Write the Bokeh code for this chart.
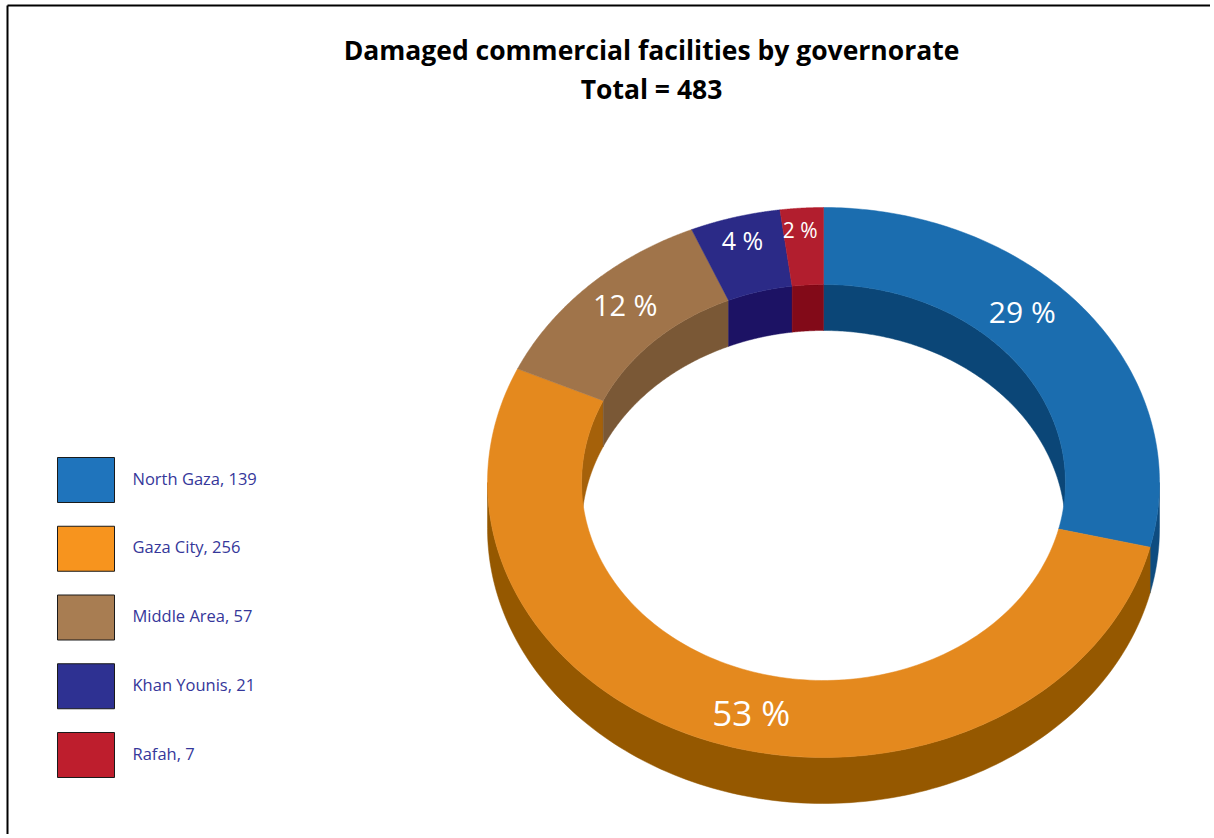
import numpy as np
from bokeh.plotting import figure
from bokeh.models import Range1d, ColumnDataSource
from bokeh.core.properties import value
from bokeh.embed import file_html
from bokeh.resources import INLINE

# ---------------- data ----------------
governorates = ["North Gaza", "Gaza City", "Middle Area", "Khan Younis", "Rafah"]
# slice sizes as drawn in the chart (they add up to the stated total of 483)
slice_values = [139, 256, 57, 21, 10]
# counts as printed in the legend
legend_counts = [139, 256, 57, 21, 7]
pct_labels = ["29 %", "53 %", "12 %", "4 %", "2 %"]
title_lines = ["Damaged commercial facilities by governorate", "Total = 483"]

# ---------------- styles ----------------
legend_colors = ["#1F74BC", "#F7941E", "#A87D52", "#2E3192", "#BE1E2D"]
top_colors = ["#1B6DAF", "#E4891E", "#A0744A", "#2B2A87", "#B21E2E"]
outer_wall_colors = ["#0E4C80", "#955800", "#6E4F2F", "#1C1264", "#820A18"]
inner_wall_colors = ["#0B4677", "#A5610A", "#7A5836", "#1C1264", "#820A18"]
label_sizes = ["30px", "35px", "29px", "25px", "21px"]
label_angle_shift = [-8.2, -4.55, 1.95, 0.0, -0.6]  # degrees, label placement tweak
label_radius = [0.858, 0.862, 0.875, 0.916, 0.92]   # fraction of outer radius
FONT = "Open Sans"

W, H = 1210, 834
p = figure(width=W, height=H, x_range=Range1d(0, W), y_range=Range1d(H, 0),
           output_backend="svg", toolbar_location=None, min_border=0,
           x_axis_location=None, y_axis_location=None,
           outline_line_color=None, border_fill_color="white",
           background_fill_color="white")
p.grid.visible = False

# geometry of the 3D donut (screen-like units)
cx, cy, rx, ry = 823.0, 482.0, 336.0, 275.0
inner = 0.72
depth = 46.0

total = sum(slice_values)
cum = np.concatenate([[0.0], np.cumsum(slice_values)]) / total * 2 * np.pi


def arc(r, a, b, dy=0.0, n=140):
    t = np.linspace(a, b, n)
    return cx + r * rx * np.sin(t), cy - r * ry * np.cos(t) + dy


def clip(a, b, lo, hi):
    return max(a, lo), min(b, hi)


# inner (back) walls visible through the hole
ixs, iys, icol = [], [], []
for i in range(len(slice_values)):
    a, b = cum[i], cum[i + 1]
    for lo, hi in [(0.0, np.pi / 2), (1.5 * np.pi, 2 * np.pi)]:
        s, e = clip(a, b, lo, hi)
        if e > s:
            x1, y1 = arc(inner, s, e)
            x2, y2 = arc(inner, e, s, depth)
            ixs.append(np.concatenate([x1, x2]))
            iys.append(np.concatenate([y1, y2]))
            icol.append(inner_wall_colors[i])
p.patches(xs=ixs, ys=iys, fill_color=icol, line_color=icol, line_width=0.5)

# outer (front) walls
oxs, oys, ocol = [], [], []
for i in range(len(slice_values)):
    a, b = cum[i], cum[i + 1]
    s, e = clip(a, b, np.pi / 2, 1.5 * np.pi)
    if e > s:
        x1, y1 = arc(1.0, s, e)
        x2, y2 = arc(1.0, e, s, depth)
        oxs.append(np.concatenate([x1, x2]))
        oys.append(np.concatenate([y1, y2]))
        ocol.append(outer_wall_colors[i])
p.patches(xs=oxs, ys=oys, fill_color=ocol, line_color=ocol, line_width=0.5)

# top faces
txs, tys = [], []
for i in range(len(slice_values)):
    a, b = cum[i], cum[i + 1]
    x1, y1 = arc(1.0, a, b)
    x2, y2 = arc(inner, b, a)
    txs.append(np.concatenate([x1, x2]))
    tys.append(np.concatenate([y1, y2]))
p.patches(xs=txs, ys=tys, fill_color=top_colors, line_color=top_colors, line_width=0.5)

# percentage labels
mid = (cum[:-1] + cum[1:]) / 2 + np.radians(label_angle_shift)
rl = np.array(label_radius)
lab = ColumnDataSource(dict(x=cx + rl * rx * np.sin(mid), y=cy - rl * ry * np.cos(mid),
                            text=pct_labels, size=label_sizes))
p.text(x="x", y="y", text="text", source=lab, text_font=value(FONT),
       text_font_size="size", text_color="white", text_align="center",
       text_baseline="middle")

# title
p.text(x=[651, 651], y=[49, 88], text=title_lines, text_font=value(FONT),
       text_font_style="bold", text_font_size="26.5px", text_color="black",
       text_align="center", text_baseline="alphabetic")

# legend
n = len(governorates)
ly = [479.5 + k * 68.75 for k in range(n)]
p.rect(x=[85.5] * n, y=ly, width=57, height=45, fill_color=legend_colors,
       line_color="#1a1a1a", line_width=1)
p.text(x=[132] * n, y=[v - 2 for v in ly],
       text=[f"{g}, {c}" for g, c in zip(governorates, legend_counts)],
       text_font=value(FONT), text_font_size="16.5px", text_color="#35379A",
       text_align="left", text_baseline="middle")

# frame (top and left edges visible)
p.segment(x0=[7, 7], y0=[5, 5], x1=[W, 7], y1=[5, H], line_color="black",
          line_width=2)

open("out.html", "w").write(file_html(p, INLINE))
